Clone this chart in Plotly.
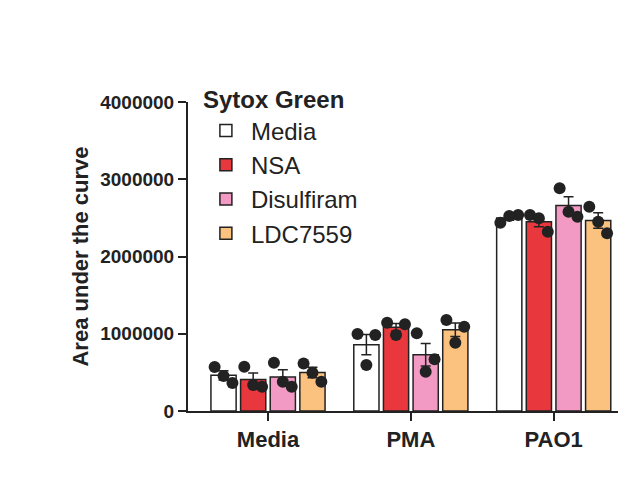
import numpy as np
import plotly.graph_objects as go

groups = ["Media", "PMA", "PAO1"]
series = ["Media", "NSA", "Disulfiram", "LDC7559"]
colors = ["#ffffff", "#e8373d", "#f29ac4", "#fbc27f"]
points = {
    "Media": [[570000, 362000, 453000], [997000, 984000, 595000], [2438000, 2537000, 2524000]],
    "NSA": [[573000, 315000, 337000], [1143000, 1122000, 984000], [2537000, 2321000, 2494000]],
    "Disulfiram": [[626000, 315000, 380000], [1005000, 669000, 509000], [2883000, 2515000, 2580000]],
    "LDC7559": [[616000, 380000, 496000], [1178000, 1091000, 884000], [2645000, 2300000, 2451000]],
}
yticks = [0, 1000000, 2000000, 3000000, 4000000]

bargap = 0.17
w = (1 - bargap) / 4
jit = [-0.3, 0.3, 0.0]
fig = go.Figure()
xc = np.arange(3)
for i, s in enumerate(series):
    arr = np.array(points[s], dtype=float)
    means = arr.mean(axis=1)
    sem = arr.std(axis=1, ddof=1) / np.sqrt(arr.shape[1])
    xs = xc + (i - 1.5) * w
    fig.add_bar(x=xs, y=means, width=w * 0.85, name=s,
                marker=dict(color=colors[i], line=dict(color="#222", width=1.5)),
                error_y=dict(type="data", array=sem, color="#222", thickness=1.5, width=5))
    px, py = [], []
    for g in range(3):
        for k, v in enumerate(arr[g]):
            px.append(xs[g] + jit[k] * w)
            py.append(v)
    fig.add_scatter(x=px, y=py, mode="markers", showlegend=False,
                    marker=dict(color="#222", size=12))

fig.update_layout(
    width=638, height=482, plot_bgcolor="white", paper_bgcolor="white",
    margin=dict(l=180, r=28, t=94, b=79),
    font=dict(family="Liberation Sans, Arial", color="#222"),
    legend=dict(x=0.03, y=1.08, xanchor="left", yanchor="top",
                title=dict(text="<b>Sytox Green</b>", font=dict(size=24)),
                font=dict(size=24), tracegroupgap=0, itemwidth=40,
                bgcolor="rgba(0,0,0,0)"),
)
fig.update_xaxes(range=[-0.56, 2.45], tickvals=list(xc), ticktext=["<b>%s</b>" % g for g in groups],
                 tickfont=dict(size=22), showline=True, linecolor="#222", linewidth=2,
                 ticks="outside", ticklen=8, tickwidth=2, tickcolor="#222", showgrid=False, zeroline=False)
fig.update_yaxes(range=[0, 4000000], tickvals=yticks, ticktext=["<b>%d</b>" % t for t in yticks],
                 tickfont=dict(size=19), showline=True, linecolor="#222", linewidth=2,
                 ticks="outside", ticklen=8, tickwidth=2, tickcolor="#222", showgrid=False, zeroline=False,
                 title=dict(text="<b>Area under the curve</b>", font=dict(size=22), standoff=6))
fig.write_html("out.html")
